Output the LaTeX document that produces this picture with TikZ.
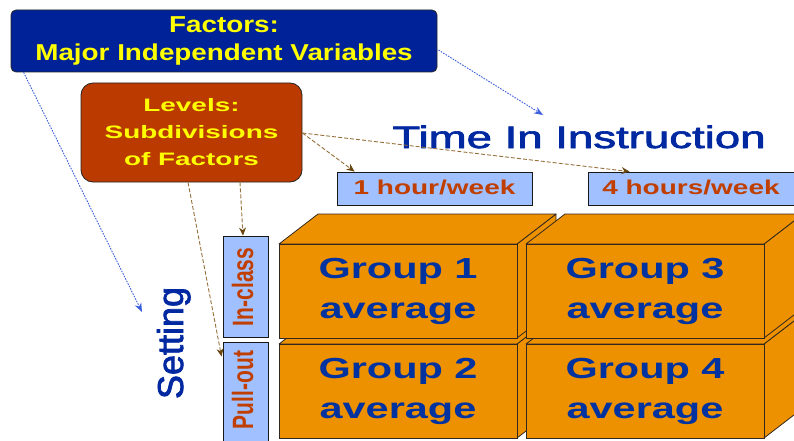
\documentclass[tikz,border=0pt]{standalone}
\usepackage{fontspec}
\usepackage{graphicx}
\setmainfont{Liberation Sans}
\newfontfamily\heavyreg[FakeBold=2]{Liberation Sans}
\usetikzlibrary{arrows.meta,calc}
\definecolor{factblue}{RGB}{0,34,152}
\definecolor{yeltext}{RGB}{255,255,0}
\definecolor{levred}{RGB}{186,58,0}
\definecolor{lightbox}{RGB}{160,192,255}
\definecolor{boxtext}{RGB}{192,62,0}
\definecolor{blockor}{RGB}{238,145,0}
\definecolor{blockedge}{RGB}{50,40,30}
\definecolor{grouptext}{RGB}{0,50,160}
\definecolor{titleblue}{RGB}{0,40,160}
\definecolor{arrblue}{RGB}{60,95,220}
\definecolor{brownline}{RGB}{150,112,60}
\definecolor{browntip}{RGB}{105,70,15}
\newcommand\wid[2]{\scalebox{#1}[1]{#2}}
\newcommand\tall[2]{\scalebox{1}[#1]{#2}}
\newcommand\groupblock[4]{%
  \filldraw[blockface] (#2+238,#3) -- ++(39,-30) -- ++(0,94) -- ++(-39,30) -- cycle;
  \filldraw[blockface] (#2,#3) -- ++(39,-30) -- ++(238,0) -- ++(-39,30) -- cycle;
  \node[groupface] (#1) at (#2+119,#3+47) {#4};
}
\begin{document}
\begin{tikzpicture}[x=1pt,y=-1pt,
  factorsbox/.style={draw=black!85, line width=0.8pt, fill=factblue, rounded corners=5pt,
    minimum width=426pt, minimum height=62pt, inner sep=0pt, text=yeltext,
    font=\bfseries\fontsize{23}{28}\selectfont, align=center},
  levelsbox/.style={draw=black!85, line width=0.8pt, fill=levred, rounded corners=12pt,
    minimum width=221pt, minimum height=99pt, inner sep=0pt, text=yeltext,
    font=\bfseries\fontsize{18}{27}\selectfont, align=center},
  lightrect/.style={draw=black!90, line width=0.9pt, fill=lightbox, inner sep=0pt},
  boxlabel/.style={text=boxtext, font=\bfseries\fontsize{20}{24}\selectfont, inner sep=0pt},
  sidelabel/.style={text=boxtext, font=\bfseries\fontsize{21}{24}\selectfont, inner sep=0pt, rotate=90},
  blockface/.style={fill=blockor, draw=blockedge, line width=0.8pt, line join=round},
  groupface/.style={fill=blockor, draw=blockedge, line width=0.8pt, minimum width=238pt,
    minimum height=94pt, inner sep=0pt, text=grouptext,
    font=\bfseries\fontsize{29}{40}\selectfont, align=center},
  bluearrow/.style={draw=arrblue, line width=0.9pt, dash pattern=on 1.6pt off 1.2pt,
    -{Stealth[length=9pt,width=7pt]}},
  brownarrow/.style={draw=brownline, line width=0.9pt, dash pattern=on 4pt off 2pt,
    -{Stealth[length=8pt,width=7pt,color=browntip]}}
]
\useasboundingbox (0,0) rectangle (794,441);
\clip (0,0) rectangle (794,441);

% blocks (back to front)
\groupblock{g2}{279}{344}{\wid{1.43}{Group 2}\\\wid{1.43}{average}}
\groupblock{g1}{279}{244}{\wid{1.43}{Group 1}\\\wid{1.43}{average}}
\groupblock{g4}{526}{344}{\wid{1.43}{Group 4}\\\wid{1.43}{average}}
\groupblock{g3}{526}{244}{\wid{1.43}{Group 3}\\\wid{1.43}{average}}

% level boxes
\node[lightrect, minimum width=195pt, minimum height=33pt] (h1) at (434.5,188.5) {};
\node[boxlabel] (h1t) at (434.5,187) {\wid{1.4}{1 hour/week}};
\node[lightrect, minimum width=208pt, minimum height=33pt] (h4) at (692,188.5) {};
\node[boxlabel] (h4t) at (691,187) {\wid{1.4}{4 hours/week}};

\node[lightrect, minimum width=45pt, minimum height=101pt] (inclass) at (245.5,286.5) {};
\node[sidelabel] (inclasst) at (242.5,287) {\tall{1.4}{In-class}};
\node[lightrect, minimum width=45pt, minimum height=106pt] (pullout) at (245.5,395) {};
\node[sidelabel] (pulloutt) at (242.5,390) {\tall{1.4}{Pull-out}};

% titles
\node[text=titleblue, font=\heavyreg\fontsize{31}{36}\selectfont, anchor=base, inner sep=0pt]
  (time) at (579,148) {\wid{1.47}{Time In Instruction}};
\node[text=titleblue, font=\heavyreg\fontsize{36}{40}\selectfont, anchor=base, rotate=90, inner sep=0pt]
  (setting) at (183,343) {Setting};

% Levels and Factors boxes
\node[levelsbox] (levels) at (191.5,132.5) {\wid{1.55}{Levels:}\\\wid{1.55}{Subdivisions}\\\wid{1.55}{of Factors}};
\node[factorsbox] (factors) at (224,41) {\wid{1.21}{Factors:}\\\wid{1.21}{Major Independent Variables}};

% brown arrows from Levels
\coordinate (levR) at ($(levels.east)+(0,0.5)$);
\coordinate (levB1) at ($(levels.south)+(-3.5,0)$);
\coordinate (levB2) at ($(levels.south)+(48.5,0)$);
\draw[brownarrow] (levR) -- ($(h1.north west)+(18,0)$);
\draw[brownarrow] (levR) -- ($(h4.north west)+(42,0)$);
\draw[brownarrow] (levB2) -- ($(inclass.north)+(-2.5,0)$);
\draw[brownarrow] (levB1) -- ($(pullout.north west)+(-1,15)$);

% blue arrows from Factors
\coordinate (settingtip) at (142,312);
\coordinate (timetip) at (543,115);
\draw[bluearrow] ($(factors.south west)+(13,0)$) -- (settingtip);
\draw[bluearrow] ($(factors.east)+(1,9)$) -- (timetip);
\end{tikzpicture}
\end{document}
